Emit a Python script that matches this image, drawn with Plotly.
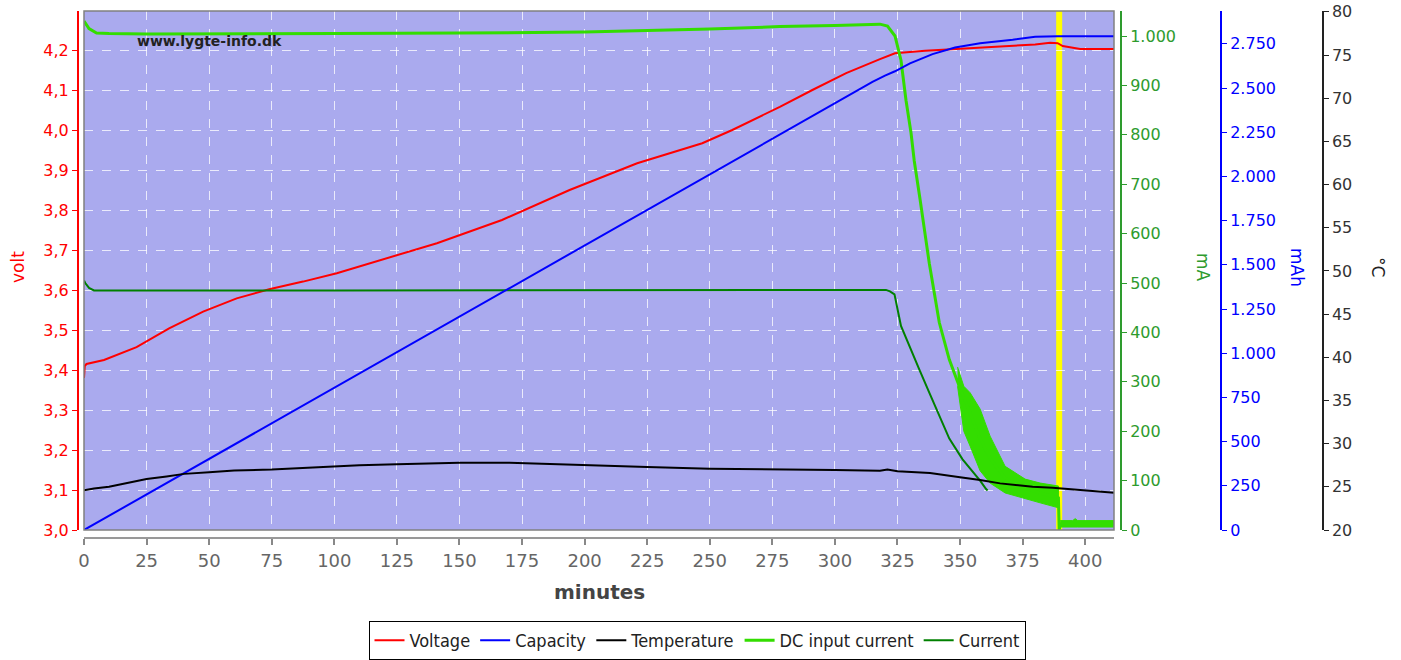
import plotly.graph_objects as go

# ---------------- data ----------------
volt_t = [0, 0.3, 1, 8, 21, 34, 47.6, 61, 74, 87.5, 101, 114, 141, 167, 194, 221, 247, 259,
          278, 291, 304.5, 318, 324, 336, 348, 362, 371, 380, 386, 389, 391, 394, 398, 412]
volt_v = [3.38, 3.41, 3.415, 3.425, 3.457, 3.504, 3.546, 3.579, 3.602, 3.621, 3.642, 3.667,
          3.717, 3.775, 3.85, 3.917, 3.967, 4.0, 4.058, 4.10, 4.142, 4.177, 4.192, 4.198,
          4.2025, 4.206, 4.211, 4.214, 4.218, 4.217, 4.21, 4.206, 4.2025, 4.2025]

cap_t = [0, 100, 200, 278, 300, 315, 320, 324, 330, 339, 348, 358, 371, 380, 389, 412]
cap_mah = [0, 806, 1612, 2240, 2418, 2535, 2570, 2595, 2640, 2692, 2729, 2754, 2773, 2790, 2793, 2793]

temp_t = [0, 4, 10, 18, 25, 33, 40, 50, 60, 75, 100, 110, 125, 150, 170, 180, 200, 225, 250,
          275, 300, 318, 321, 325, 338, 350, 358, 366, 379, 387, 395, 408, 412]
temp_c = [24.6, 24.8, 25.0, 25.5, 25.9, 26.2, 26.5, 26.7, 26.9, 27.0, 27.35, 27.5, 27.6, 27.8,
          27.8, 27.7, 27.5, 27.3, 27.1, 27.05, 26.95, 26.85, 27.0, 26.8, 26.6, 26.1, 25.8,
          25.4, 25.0, 24.9, 24.7, 24.4, 24.3]

dc_t = [0, 2, 5, 10, 25, 50, 100, 150, 200, 250, 278, 300, 318, 321, 324, 326.4, 328.4,
        330.4, 331.7, 334, 337.7, 341.7, 345.7, 349, 354, 358, 362, 368, 376, 382, 389.3,
        389.6, 390, 412]
dc_ma = [1030, 1015, 1006, 1005, 1004, 1004, 1005, 1006, 1008, 1014, 1019, 1021, 1024, 1020,
         1000, 951, 870, 804, 747, 670, 540, 420, 345, 300, 235, 185, 145, 105, 85, 75, 65,
         0, 12, 12]

# noisy band of the DC input current
band1_t = [349, 351.5, 354, 358, 362, 368, 376, 382, 389.3]
band1_hi = [330, 291, 278, 245, 190, 129, 103, 95, 89]
band1_lo = [291, 200, 170, 120, 95, 75, 63, 55, 45]
band2_t = [390, 395, 396, 397, 412]
band2_hi = [19, 19, 23, 19, 19]
band2_lo = [6, 6, 6, 6, 6]

cur_t = [0, 0.5, 2, 4, 100, 200, 300, 318, 320.4, 322, 323.8, 326.4, 329.7, 333.7, 337.7,
         341.7, 345.7, 351, 356.4, 358, 360.4, 361]
cur_ma = [505, 500, 490, 485, 485, 485, 485, 485, 486, 483, 477, 413, 372, 325, 278, 231,
          185, 143, 110, 100, 83, 80]

end_marker_t = 389.6

x_ticks = list(range(0, 401, 25))

# ---------------- figure ----------------
RED = "#FF0000"
BLUE = "#0000FF"
BLACK = "#000000"
LGREEN = "#33DD00"
DGREEN = "#008000"
AXGREEN = "#2E9B2E"
FONT = "DejaVu Sans"

fig = go.Figure()

fig.add_trace(go.Scatter(x=volt_t, y=volt_v, name="Voltage", mode="lines",
                         line=dict(color=RED, width=2), yaxis="y"))
fig.add_trace(go.Scatter(x=cap_t, y=cap_mah, name="Capacity", mode="lines",
                         line=dict(color=BLUE, width=2), yaxis="y3"))
fig.add_trace(go.Scatter(x=temp_t, y=temp_c, name="Temperature", mode="lines",
                         line=dict(color=BLACK, width=2), yaxis="y4"))

for bt, bh, bl in ((band1_t, band1_hi, band1_lo), (band2_t, band2_hi, band2_lo)):
    fig.add_trace(go.Scatter(x=bt + bt[::-1], y=bh + bl[::-1], mode="lines",
                             fill="toself", fillcolor=LGREEN, line=dict(color=LGREEN, width=1),
                             showlegend=False, hoverinfo="skip", yaxis="y2"))

fig.add_trace(go.Scatter(x=dc_t, y=dc_ma, name="DC input current", mode="lines",
                         line=dict(color=LGREEN, width=3), yaxis="y2"))
fig.add_trace(go.Scatter(x=cur_t, y=cur_ma, name="Current", mode="lines",
                         line=dict(color=DGREEN, width=2), yaxis="y2"))

W, H = 1401, 660
ml, mr, mt, mb = 78, 40, 11, 122
pw = W - ml - mr
ph = H - mt - mb


def px_x(p):
    return (p - ml) / pw


def px_y(p):
    return (H - mb - p) / ph


ydom = [px_y(530), 1]

fig.update_layout(
    width=W, height=H,
    margin=dict(l=ml, r=mr, t=mt, b=mb, pad=0, autoexpand=False),
    paper_bgcolor="white",
    plot_bgcolor="#AAAAEE",
    separators=",.",
    font=dict(family=FONT, size=15, color="#333333"),
    xaxis=dict(domain=[px_x(84), px_x(1114)], range=[0, 411.5], anchor="free", position=0,
               tickvals=x_ticks, tickformat="d", ticks="outside", ticklen=6, tickwidth=1.5,
               tickcolor="#888888", showline=True, linecolor="#999999", linewidth=2,
               tickfont=dict(size=18, color="#666666"),
               showgrid=True, gridcolor="rgba(255,255,255,0.75)", griddash="dash", gridwidth=1,
               zeroline=False),
    yaxis=dict(domain=ydom, range=[3.0, 4.2975], anchor="free", position=0, side="left",
               dtick=0.1, tick0=3.0, tickformat=".1f", ticks="outside", ticklen=5,
               tickcolor=RED, showline=True, linecolor=RED, linewidth=2,
               tickfont=dict(size=16, color=RED),
               showgrid=True, gridcolor="rgba(255,255,255,0.75)", griddash="dash", gridwidth=1,
               zeroline=False),
    yaxis2=dict(domain=ydom, range=[0, 1050.6], overlaying="y", anchor="free",
                position=px_x(1121), side="right", dtick=100, tickformat=",d",
                ticks="outside", ticklen=5, tickcolor=AXGREEN, showline=True,
                linecolor=AXGREEN, linewidth=2, tickfont=dict(size=16, color=AXGREEN),
                showgrid=False, zeroline=False),
    yaxis3=dict(domain=ydom, range=[0, 2936], overlaying="y", anchor="free",
                position=px_x(1221), side="right", dtick=250, tickformat=",d",
                ticks="outside", ticklen=5, tickcolor=BLUE, showline=True,
                linecolor=BLUE, linewidth=2, tickfont=dict(size=16, color=BLUE),
                showgrid=False, zeroline=False),
    yaxis4=dict(domain=ydom, range=[20, 80.1], overlaying="y", anchor="free",
                position=px_x(1322.7), side="right", dtick=5, tickformat="d",
                ticks="outside", ticklen=5, tickcolor="#222222", showline=True,
                linecolor="#222222", linewidth=2, tickfont=dict(size=16, color="#333333"),
                showgrid=False, zeroline=False),
    legend=dict(orientation="h", x=px_x(697), xanchor="center", y=px_y(621), yanchor="top",
                bordercolor="#000000", borderwidth=1, bgcolor="white",
                font=dict(family="DejaVu Sans Condensed, DejaVu Sans", size=18, color="#222222"),
                itemwidth=30, tracegroupgap=0),
    showlegend=True,
)

# plot border and end-of-charge marker
fig.add_shape(type="rect", xref="x domain", yref="y domain", x0=0, x1=1, y0=0, y1=1,
              line=dict(color="#808080", width=1.5), layer="above")
fig.add_shape(type="line", xref="x", yref="y domain", x0=end_marker_t, x1=end_marker_t,
              y0=0, y1=1, line=dict(color="#FFFF00", width=6), layer="below")

annots = [
    dict(text="minutes", x=px_x(599), y=px_y(592), textangle=0,
         font=dict(size=20, color="#444444", family=FONT, weight="bold")),
    dict(text="volt", x=px_x(18), y=px_y(267), textangle=-90, font=dict(size=17, color=RED)),
    dict(text="mA", x=px_x(1203), y=px_y(267), textangle=90, font=dict(size=17, color=AXGREEN)),
    dict(text="mAh", x=px_x(1297), y=px_y(267), textangle=90, font=dict(size=17, color=BLUE)),
    dict(text="°C", x=px_x(1378), y=px_y(267), textangle=90, font=dict(size=17, color="#222222")),
]
for a in annots:
    fig.add_annotation(xref="paper", yref="paper", showarrow=False, xanchor="center",
                       yanchor="middle", **a)

fig.add_annotation(text="www.lygte-info.dk", xref="paper", yref="paper",
                   x=px_x(135), y=px_y(41), xanchor="left", yanchor="middle", showarrow=False,
                   font=dict(size=14, color="#222222", family=FONT, weight="bold"))

fig.write_html("out.html")
